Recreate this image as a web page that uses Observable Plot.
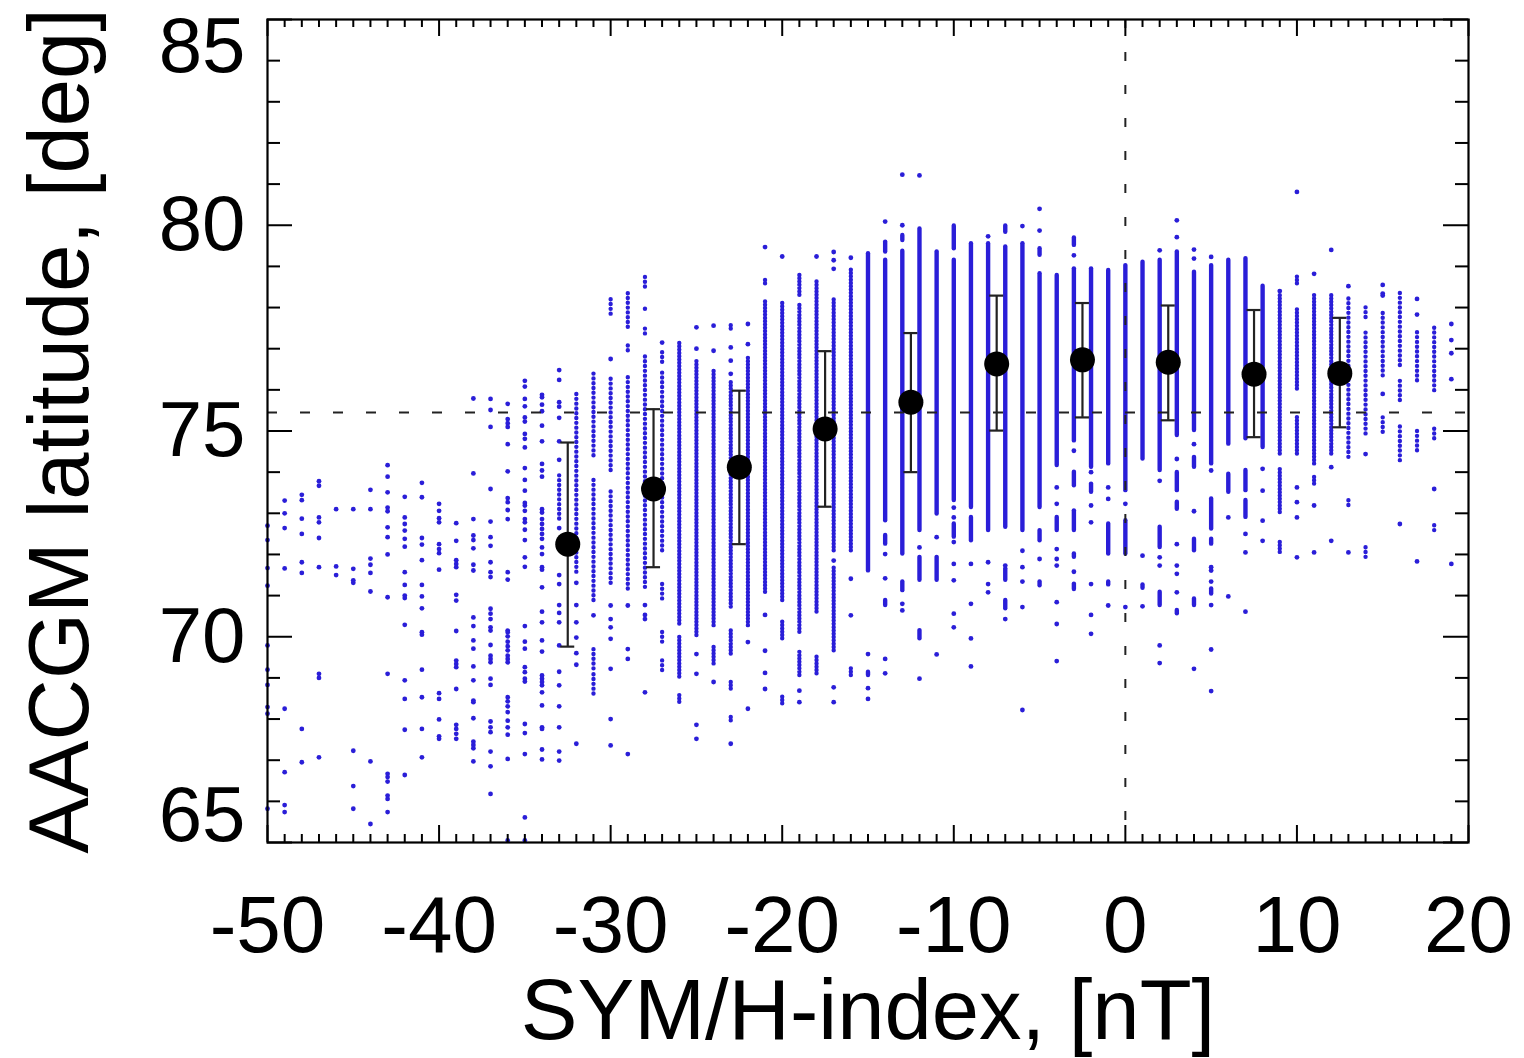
<!DOCTYPE html>
<html><head><meta charset="utf-8">
<script src="https://cdn.jsdelivr.net/npm/d3@7"></script>
<script src="https://cdn.jsdelivr.net/npm/@observablehq/plot@0.6"></script>
<style>html,body{margin:0;padding:0;background:#fff;} #chart{width:1524px;height:1058px;overflow:hidden;}</style>
</head><body><div id="chart"></div>
<script>
// ---- axis ticks / titles ----
const xTicks = [-50, -40, -30, -20, -10, 0, 10, 20];
const yTicks = [65, 70, 75, 80, 85];
const xMinor = [-49,-48,-47,-46,-45,-44,-43,-42,-41,-39,-38,-37,-36,-35,-34,-33,-32,-31,-29,-28,-27,-26,-25,-24,-23,-22,-21,-19,-18,-17,-16,-15,-14,-13,-12,-11,-9,-8,-7,-6,-5,-4,-3,-2,-1,1,2,3,4,5,6,7,8,9,11,12,13,14,15,16,17,18,19];
const yMinor = [66,67,68,69,71,72,73,74,76,77,78,79,81,82,83,84];
const xTitle = "SYM/H-index, [nT]";
const yTitle = "AACGM latitude, [deg]";

// ---- reference lines ----
const refLatitude = 75.45;
const refSym = 0;

// ---- binned means with error bars ----
const binCenter = [-32.5, -27.5, -22.5, -17.5, -12.5, -7.5, -2.5, 2.5, 7.5, 12.5];
const binMean   = [72.25, 73.59, 74.12, 75.05, 75.70, 76.63, 76.73, 76.67, 76.38, 76.40];
const binLow    = [69.76, 71.69, 72.25, 73.16, 74.00, 75.01, 75.33, 75.26, 74.85, 75.09];
const binHigh   = [74.72, 75.53, 75.98, 76.94, 77.38, 78.29, 78.11, 78.05, 77.94, 77.75];

// ---- scatter: columns of SYM/H values, isolated latitudes and runs of overlapping points ----
const symCols = [-50,-49,-48,-47,-46,-45,-44,-43,-42,-41,-40,-39,-38,-37,-36,-35,-34,-33,-32,-31,-30,-29,-28,-27,-26,-25,-24,-23,-22,-21,-20,-19,-18,-17,-16,-15,-14,-13,-12,-11,-10,-9,-8,-7,-6,-5,-4,-3,-2,-1,0,1,2,3,4,5,6,7,8,9,10,11,12,13,14,15,16,17,18,19];
const latDots = [
 [72.70,72.35,71.67,71.24,69.79,69.2,68.83,68.29,68.13,65.82],
 [73.31,73.0,72.64,71.66,68.25,66.71,65.91,65.74],
 [73.45,73.32,72.87,72.5,71.81,71.55,67.76,66.95],
 [73.78,73.67,72.9,72.78,72.4,71.69,69.1,69.0,67.07],
 [73.1,71.71,71.5],
 [73.1,71.65,71.37,71.31,67.23,66.37,65.82],
 [73.57,73.1,71.9,71.75,71.55,71.1,66.97,65.45],
 [74.17,73.89,73.51,73.14,73.05,72.66,72.42,72.0,70.96,69.1,66.67,66.59,66.48,66.14,66.06,65.74],
 [73.4,72.9,72.74,72.58,72.38,72.19,71.57,71.26,71.0,70.94,70.29,68.94,68.49,67.74,66.64],
 [73.74,73.39,72.4,72.24,71.86,71.26,70.98,70.69,70.11,70.05,69.2,68.53,67.76,67.07],
 [73.23,73.06,72.88,72.78,72.25,72.13,72.03,71.63,68.63,68.49,67.99,67.58,67.52],
 [72.76,72.33,71.86,71.77,71.69,71.02,70.88,70.14,69.42,69.34,69.26,68.73,67.86,67.76,67.64,67.52],
 [75.79,73.97,72.86,72.46,72.35,72.15,71.75,71.61,70.47,70.26,69.91,69.71,69.28,68.94,68.45,68.41,68.02,67.45,67.37,67.29,66.97],
 [75.78,75.51,75.1,73.59,72.8,72.42,72.21,71.81,71.57,71.45,70.68,70.56,70.43,70.23,70.15,69.8,69.54,69.46,69.38,68.98,68.83,67.94,67.8,67.68,67.21,66.85,66.18],
 [75.66,75.29,75.19,75.1,74.68,74.02,73.37,73.27,73.08,72.86,71.57,71.39,70.15,70.11,70.01,69.88,69.77,69.67,69.54,69.46,69.38,68.53,68.43,68.31,68.17,67.96,67.8,67.62,67.03,65.05],
 [76.22,76.08,75.78,75.6,75.33,75.23,74.93,74.81,74.6,74.1,73.81,73.55,73.25,73.19,73.06,72.86,72.78,72.6,72.35,71.93,71.7,70.26,69.88,69.71,69.26,69.14,68.98,68.91,67.88,67.66,67.15,65.61,65.05],
 [75.88,75.82,75.64,75.48,75.13,74.75,74.2,74.04,73.89,73.1,73.02,72.86,72.74,72.62,72.5,72.38,72.17,72.01,71.69,71.63,71.2,70.61,70.35,69.91,69.64,69.06,68.98,68.9,68.82,68.65,68.33,67.8,67.76,67.26,67.02],
 [76.48,76.24,75.7,75.59,75.32,74.75,74.3,72.64,71.5,71.28,70.77,70.58,70.35,69.79,69.15,68.82,68.31,67.8,67.21,66.99],
 [71.31,70.77,70.35,69.98,69.6,69.32,67.4],
 [70.52],
 [76.75,70.76,70.43,70.23,69.95,69.22,68.0,67.36],
 [70.76,69.7,69.46,67.15],
 [70.77,70.53,70.43,68.65],
 [77.15],
 [],
 [77.52,77.0,69.58,69.1,67.86,67.52],
 [77.56,76.95,68.9],
 [77.03,76.71,76.39,67.4],
 [77.6,77.11,69.87,68.25],
 [79.47,70.53,69.66,69.12,68.73],
 [79.24],
 [68.69,68.41],
 [79.24],
 [79.35,79.15,78.94,71.85,68.77,68.41],
 [79.21,71.41,70.52],
 [69.58,68.75,68.49],
 [80.09,72.01,71.42,69.46,69.11],
 [81.23,80.0,70.8,70.64],
 [81.21,72.17,68.98],
 [72.42,69.57],
 [73.14,72.9,72.3,71.77,71.37,70.56,70.23],
 [71.77,70.8,69.96,69.28],
 [79.73,71.81,71.28,71.08],
 [71.73,70.43],
 [79.98,72.09,71.69,71.34,70.72,68.22],
 [80.4,79.87,71.89],
 [73.63,73.23,72.13,71.89,71.73,70.84,70.31,69.41],
 [79.27,74.52,71.58],
 [74.0,73.19,72.78,71.28,70.53,70.07],
 [73.63,73.35,70.76],
 [73.23,70.72],
 [71.97,70.74],
 [79.39,73.79,71.93,71.73,69.79,69.36],
 [80.12,79.71,74.32,72.25,71.73,71.53,71.08],
 [79.41,79.19,74.68,73.05,69.22],
 [79.23,74.04,71.69,71.61,71.34,70.77,69.69,68.68],
 [72.9,70.98],
 [72.5,72.05,70.61],
 [74.08,73.55,72.82,72.33],
 [78.4],
 [80.81,73.63,73.27,72.9,71.93],
 [78.82,73.19,72.05],
 [79.4,74.12,72.33],
 [78.52,72.05],
 [74.44],
 [78.55,78.34,78.29,75.9],
 [72.74],
 [78.21,77.83,71.83],
 [73.59],
 [77.6,77.21,76.89,76.26,71.77]
];
const latRuns = [
 [],[],[],[],[],[],[],[],[],[],[],[],[],[],[],[],[],
 [[72.86,73.91]],
 [[71.57,75.99]],
 [[74.4,76.47],[70.88,73.81],[69.22,69.7],[68.61,69.1]],
 [[77.84,78.25],[74.04,76.26],[71.3,73.63]],
 [[77.52,78.41],[76.95,77.1],[71.16,76.38]],
 [[78.5,78.74],[77.96,78.05],[77.36,77.52],[71.2,76.91]],
 [[76.67,76.91],[72.09,76.43],[70.92,71.33],[69.87,70.11],[69.18,69.5]],
 [[70.31,77.15],[69.02,69.99],[68.41,68.61]],
 [[70.03,76.71]],
 [[70.27,76.47],[69.34,69.79]],
 [[77.48,77.6],[70.72,76.18],[69.58,70.15],[68.73,68.94],[67.96,68.08]],
 [[70.27,76.83]],
 [[78.58,78.74],[71.08,78.17]],
 [[70.88,78.13],[69.95,70.43],[68.37,68.57]],
 [[78.3,78.82],[70.11,78.05],[69.06,69.66]],
 [[70.6,78.62],[69.1,69.58]],
 [[72.09,78.25],[69.66,71.7]],
 [[72.09,78.94],[69.06,69.3]],
 [[71.6,79.31],[69.06,69.14]],
 [[79.35,79.59],[72.82,79.15],[72.25,72.46],[70.76,70.88]],
 [[79.63,79.75],[72.01,79.37],[71.12,71.33]],
 [[72.58,79.91],[71.37,71.93],[69.95,70.15]],
 [[72.98,79.35],[71.37,71.93]],
 [[79.43,79.98],[73.31,79.15],[72.42,72.74]],
 [[73.14,79.55],[72.33,72.9]],
 [[72.58,79.55]],
 [[79.83,79.98],[72.66,79.47],[71.37,71.65],[70.68,70.88]],
 [[72.58,79.55]],
 [[79.27,79.43],[73.14,78.82],[72.33,72.58],[71.24,71.33]],
 [[74.16,78.78],[72.58,72.9]],
 [[79.51,79.69],[74.76,78.94],[73.67,74.0],[72.58,73.06],[71.93,72.01],[71.15,71.28]],
 [[74.12,78.94],[73.51,73.71]],
 [[74.2,78.9],[72.01,72.74],[71.26,71.33]],
 [[73.55,79.02],[72.01,72.82]],
 [[74.32,79.1],[71.18,71.26]],
 [[74.04,79.15],[72.17,72.66],[70.76,71.08]],
 [[74.89,79.35],[73.55,73.99],[73.1,73.27],[70.56,70.64]],
 [[75.01,78.86],[74.12,74.36],[72.09,72.37],[70.76,70.92]],
 [[74.2,79.02],[72.62,73.35],[72.25,72.37],[71.04,71.16]],
 [[74.68,79.15],[73.51,73.95]],
 [[74.81,79.19],[73.55,74.04],[72.9,73.31]],
 [[74.6,78.52]],
 [[74.44,78.3],[73.02,74.12],[72.05,72.3]],
 [[78.58,78.78],[76.02,77.96],[74.44,75.33]],
 [[74.2,78.3],[73.71,73.91]],
 [[74.44,78.3]],
 [[74.36,78.29],[73.19,73.35]],
 [[77.76,78.0],[74.93,77.4],[71.93,72.17]],
 [[76.34,77.88],[74.97,75.37]],
 [[76.59,78.41],[75.74,76.3],[74.28,75.17]],
 [[76.22,77.4],[74.52,75.09]],
 [[75.98,77.6],[74.81,75.13],[72.58,72.78]],
 []
];

// ---- build tables ----
const dotRows = symCols.flatMap((x, i) => latDots[i].map(y => ({x, y})));
const runRows = symCols.flatMap((x, i) => latRuns[i].map(([lo, hi]) => ({x, lo, hi})));
const bins = binCenter.map((c, i) => ({c, mean: binMean[i], lo: binLow[i], hi: binHigh[i]}));

const sparse = d => d.x <= -27 || d.x >= 13;
const medium = d => (d.x >= -26 && d.x <= -16) || (d.x >= 9 && d.x <= 12);
const dense = d => !sparse(d) && !medium(d);

const blue = "#2a1ed8";
const W = 1524, H = 1058, mL = 267, mR = 56, mT = 19, mB = 216;
const fw = W - mL - mR, fh = H - mT - mB;
const font = "'Liberation Sans', Arial, Helvetica, sans-serif";
const fmt = d => String(d);

const chart = Plot.plot({
  width: W, height: H,
  marginLeft: mL, marginRight: mR, marginTop: mT, marginBottom: mB,
  style: {fontFamily: font, background: "#fff", color: "#000"},
  x: {domain: [-50, 20]},
  y: {domain: [65, 85]},
  marks: [
    Plot.ruleX(runRows.filter(sparse), {x: "x", y1: "lo", y2: "hi", stroke: blue, strokeWidth: 4.4, strokeLinecap: "round", strokeDasharray: "0,4.8"}),
    Plot.ruleX(runRows.filter(medium), {x: "x", y1: "lo", y2: "hi", stroke: blue, strokeWidth: 4.4, strokeLinecap: "round", strokeDasharray: "0,3.3"}),
    Plot.ruleX(runRows.filter(dense), {x: "x", y1: "lo", y2: "hi", stroke: blue, strokeWidth: 4.4, strokeLinecap: "round"}),
    Plot.dot(dotRows, {x: "x", y: "y", r: 2.4, fill: blue, stroke: "none"}),
    Plot.ruleY([refLatitude], {stroke: "#222", strokeWidth: 2, strokeDasharray: "10,23"}),
    Plot.ruleX([refSym], {stroke: "#222", strokeWidth: 2, strokeDasharray: "9,24"}),
    Plot.ruleX(bins, {x: "c", y1: "lo", y2: "hi", stroke: "#222", strokeWidth: 2.2}),
    Plot.ruleY(bins, {y: "hi", x1: "c", x2: "c", insetLeft: -7, insetRight: -7, stroke: "#222", strokeWidth: 2.2}),
    Plot.ruleY(bins, {y: "lo", x1: "c", x2: "c", insetLeft: -7, insetRight: -7, stroke: "#222", strokeWidth: 2.2}),
    Plot.dot(bins, {x: "c", y: "mean", r: 12.5, fill: "#000", stroke: "none"}),
    // inward ticks
    Plot.tickX(xMinor, {x: d => d, insetTop: fh - 8, stroke: "#000", strokeWidth: 2}),
    Plot.tickX(xMinor, {x: d => d, insetBottom: fh - 8, stroke: "#000", strokeWidth: 2}),
    Plot.tickX(xTicks, {x: d => d, insetTop: fh - 17, stroke: "#000", strokeWidth: 2}),
    Plot.tickX(xTicks, {x: d => d, insetBottom: fh - 17, stroke: "#000", strokeWidth: 2}),
    Plot.tickY(yMinor, {y: d => d, insetRight: fw - 13, stroke: "#000", strokeWidth: 2}),
    Plot.tickY(yMinor, {y: d => d, insetLeft: fw - 13, stroke: "#000", strokeWidth: 2}),
    Plot.tickY(yTicks, {y: d => d, insetRight: fw - 25, stroke: "#000", strokeWidth: 2}),
    Plot.tickY(yTicks, {y: d => d, insetLeft: fw - 25, stroke: "#000", strokeWidth: 2}),
    Plot.frame({stroke: "#000", strokeWidth: 2.2}),
    Plot.axisX(xTicks, {tickSize: 0, tickPadding: 53, fontSize: 80, label: null, fill: "#000", tickFormat: fmt}),
    Plot.axisY(yTicks, {tickSize: 0, tickPadding: 22, fontSize: 78, label: null, fill: "#000", tickFormat: fmt}),
    Plot.text([yTitle], {frameAnchor: "left", dx: -207, rotate: -90, textAnchor: "middle", fontSize: 85, fill: "#000"}),
    Plot.text([xTitle], {frameAnchor: "bottom", dy: 196, textAnchor: "middle", fontSize: 85, fill: "#000"})
  ]
});
document.getElementById("chart").appendChild(chart);

// nudge the end labels of the latitude axis inward, as in the original
chart.querySelectorAll('[aria-label="y-axis tick label"] text').forEach(t => {
  const v = t.textContent.trim();
  const base = t.getAttribute("transform") || "";
  if (v === "85") t.setAttribute("transform", base + " translate(0,28)");
  if (v === "65") t.setAttribute("transform", base + " translate(0,-26)");
});
</script>
</body></html>
